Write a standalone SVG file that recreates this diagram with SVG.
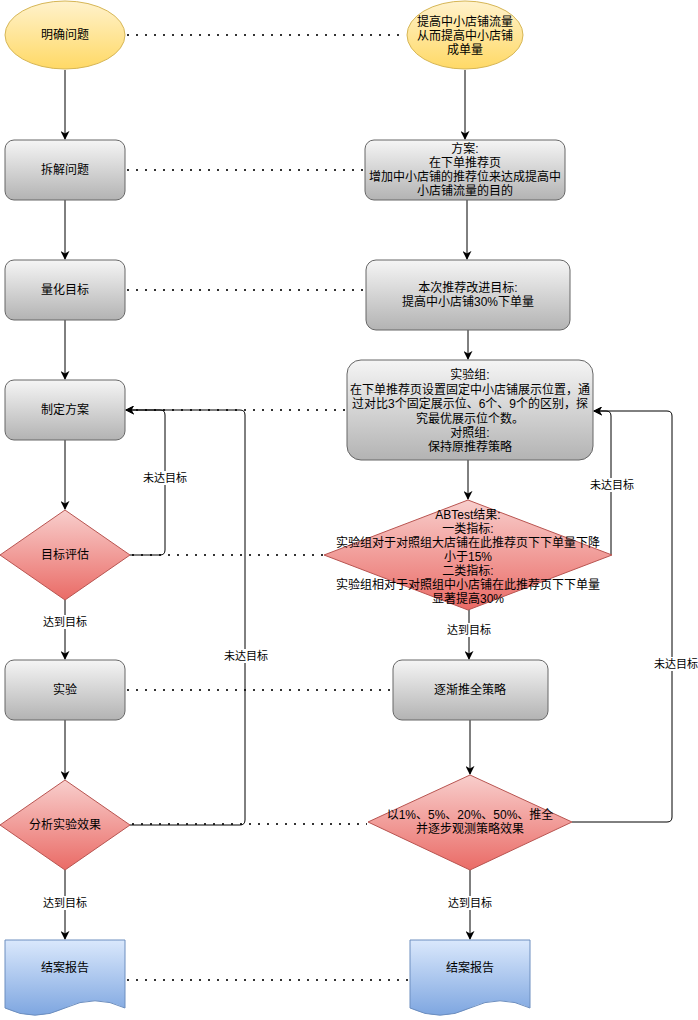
<svg xmlns="http://www.w3.org/2000/svg" width="698" height="1020" viewBox="0 0 698 1020">
<defs>
<linearGradient id="gY" x1="0" y1="0" x2="0" y2="1"><stop offset="0" stop-color="#fff2cc"/><stop offset="1" stop-color="#ffd966"/></linearGradient>
<linearGradient id="gG" x1="0" y1="0" x2="0" y2="1"><stop offset="0" stop-color="#f5f5f5"/><stop offset="1" stop-color="#b3b3b3"/></linearGradient>
<linearGradient id="gR" x1="0" y1="0" x2="0" y2="1"><stop offset="0" stop-color="#f8cecc"/><stop offset="1" stop-color="#ea6b66"/></linearGradient>
<linearGradient id="gB" x1="0" y1="0" x2="0" y2="1"><stop offset="0" stop-color="#dae8fc"/><stop offset="1" stop-color="#7ea6e0"/></linearGradient>
<marker id="arr" viewBox="0 0 10 10" refX="9" refY="5" markerWidth="9" markerHeight="9" markerUnits="userSpaceOnUse" orient="auto">
<path d="M0,0 L10,5 L0,10 L3,5 Z" fill="#000"/>
</marker>
<style>
.yel{fill:url(#gY);stroke:#d6b656;stroke-width:1}
.gry{fill:url(#gG);stroke:#666666;stroke-width:1}
.red{fill:url(#gR);stroke:#b85450;stroke-width:1}
.blu{fill:url(#gB);stroke:#6c8ebf;stroke-width:1}
text{font-family:"Liberation Sans","Noto Sans CJK SC",sans-serif;font-size:12px;fill:#000;text-anchor:middle;dominant-baseline:central}
.lbl{font-size:11px}
.lblbg{fill:#fff}
.arrow{fill:none;stroke:#000;stroke-width:1;marker-end:url(#arr)}
.loop{fill:none;stroke:#000;stroke-width:1}
.dot{fill:none;stroke:#333;stroke-width:2;stroke-dasharray:2 7}
</style>
</defs>

<g id="connectors">
<!-- dotted relations -->
<line class="dot" x1="127" y1="35" x2="406" y2="35"/>
<line class="dot" x1="127" y1="170" x2="364" y2="170"/>
<line class="dot" x1="127" y1="290" x2="365" y2="290"/>
<line class="dot" x1="127" y1="410" x2="346" y2="410"/>
<line class="dot" x1="132" y1="555" x2="323" y2="555"/>
<line class="dot" x1="127" y1="690" x2="392" y2="690"/>
<line class="dot" x1="132" y1="824" x2="367" y2="824"/>
<line class="dot" x1="127" y1="980" x2="409" y2="980"/>
<!-- left column -->
<line class="arrow" x1="65" y1="70" x2="65" y2="139"/>
<line class="arrow" x1="65" y1="200" x2="65" y2="259"/>
<line class="arrow" x1="65" y1="320" x2="65" y2="379"/>
<line class="arrow" x1="65" y1="440" x2="65" y2="509"/>
<line class="arrow" x1="65" y1="600" x2="65" y2="659"/>
<line class="arrow" x1="65" y1="720" x2="65" y2="779"/>
<line class="arrow" x1="65" y1="870" x2="65" y2="939"/>
<!-- right column -->
<line class="arrow" x1="465" y1="70" x2="465" y2="139"/>
<line class="arrow" x1="467" y1="200" x2="467" y2="259"/>
<line class="arrow" x1="468" y1="330" x2="468" y2="359"/>
<line class="arrow" x1="468" y1="460" x2="468" y2="499"/>
<line class="arrow" x1="469" y1="610" x2="469" y2="659"/>
<line class="arrow" x1="470" y1="720" x2="470" y2="774"/>
<line class="arrow" x1="470" y1="870" x2="470" y2="939"/>
<!-- loops -->
<path class="arrow" d="M130,555 H160 Q165,555 165,550 V415 Q165,410 160,410 H126"/>
<path class="arrow" d="M130,825 H240 Q245,825 245,820 V415 Q245,410 240,410 H126"/>
<path class="arrow" d="M611,555 V416 Q611,411 606,411 H594"/>
<path class="arrow" d="M572,822 H667 Q672,822 672,817 V416 Q672,411 667,411 H594"/>
<!-- labels -->
<rect class="lblbg" x="141" y="471" width="48" height="14"/>
<text class="lbl" x="165" y="478">未达目标</text>
<rect class="lblbg" x="222" y="649" width="48" height="14"/>
<text class="lbl" x="246" y="656">未达目标</text>
<rect class="lblbg" x="588" y="478" width="48" height="14"/>
<text class="lbl" x="612" y="485">未达目标</text>
<rect class="lblbg" x="652" y="657" width="48" height="14"/>
<text class="lbl" x="676" y="664">未达目标</text>
<rect class="lblbg" x="41" y="615" width="48" height="14"/>
<text class="lbl" x="65" y="622">达到目标</text>
<rect class="lblbg" x="445" y="623" width="48" height="14"/>
<text class="lbl" x="469" y="630">达到目标</text>
<rect class="lblbg" x="41" y="896" width="48" height="14"/>
<text class="lbl" x="65" y="903">达到目标</text>
<rect class="lblbg" x="446" y="896" width="48" height="14"/>
<text class="lbl" x="470" y="903">达到目标</text>
</g>

<g id="n-mingque"><ellipse class="yel" cx="65" cy="35" rx="60" ry="34"/><text x="65" y="35">明确问题</text></g>
<g id="n-goal"><ellipse class="yel" cx="465" cy="35" rx="58" ry="34"/>
<text x="465" y="22">提高中小店铺流量</text><text x="465" y="36">从而提高中小店铺</text><text x="465" y="50">成单量</text></g>

<g id="n-chaijie"><rect class="gry" x="5" y="140" width="120" height="60" rx="9"/><text x="65" y="170">拆解问题</text></g>
<g id="n-fangan"><rect class="gry" x="365" y="140" width="200" height="60" rx="9"/>
<text x="465" y="149">方案:</text><text x="465" y="163">在下单推荐页</text><text x="465" y="177">增加中小店铺的推荐位来达成提高中</text><text x="465" y="191">小店铺流量的目的</text></g>

<g id="n-lianghua"><rect class="gry" x="5" y="260" width="120" height="60" rx="9"/><text x="65" y="290">量化目标</text></g>
<g id="n-benci"><rect class="gry" x="366" y="260" width="204" height="70" rx="10"/>
<text x="468" y="288">本次推荐改进目标:</text><text x="468" y="302">提高中小店铺30%下单量</text></g>

<g id="n-zhiding"><rect class="gry" x="5" y="380" width="120" height="60" rx="9"/><text x="65" y="410">制定方案</text></g>
<g id="n-shiyanzu"><rect class="gry" x="347" y="360" width="246" height="100" rx="14"/>
<text x="470" y="375">实验组:</text>
<text x="470" y="389.5">在下单推荐页设置固定中小店铺展示位置，通</text>
<text x="470" y="404">过对比3个固定展示位、6个、9个的区别，探</text>
<text x="470" y="418.5">究最优展示位个数。</text>
<text x="470" y="433">对照组:</text>
<text x="470" y="447">保持原推荐策略</text></g>

<g id="n-mubiao"><path class="red" d="M65,510 L130,555 L65,600 L0,555 Z"/><text x="65" y="555">目标评估</text></g>
<g id="n-abtest"><path class="red" d="M468,500 L612,555 L468,610 L324,555 Z"/>
<text x="468" y="514.5">ABTest结果:</text>
<text x="468" y="528.5">一类指标:</text>
<text x="468" y="542.5">实验组对于对照组大店铺在此推荐页下下单量下降</text>
<text x="468" y="556.5">小于15%</text>
<text x="468" y="570.5">二类指标:</text>
<text x="468" y="584.5">实验组相对于对照组中小店铺在此推荐页下下单量</text>
<text x="468" y="598.5">显著提高30%</text></g>

<g id="n-shiyan"><rect class="gry" x="5" y="660" width="120" height="60" rx="9"/><text x="65" y="690">实验</text></g>
<g id="n-zhujian"><rect class="gry" x="393" y="660" width="155" height="60" rx="9"/><text x="470" y="690">逐渐推全策略</text></g>

<g id="n-fenxi"><path class="red" d="M65,780 L130,825 L65,870 L0,825 Z"/><text x="65" y="825">分析实验效果</text></g>
<g id="n-tuiquan"><path class="red" d="M470,775 L572,822 L470,870 L368,822 Z"/>
<text x="470" y="815">以1%、5%、20%、50%、推全</text><text x="470" y="829">并逐步观测策略效果</text></g>

<g id="n-report1"><path class="blu" d="M5,940 H125 V1008 Q95,993.6 65,1008 Q35,1022.4 5,1008 Z"/><text x="65" y="968">结案报告</text></g>
<g id="n-report2"><path class="blu" d="M410,940 H530 V1008 Q500,993.6 470,1008 Q440,1022.4 410,1008 Z"/><text x="470" y="968">结案报告</text></g>
</svg>
